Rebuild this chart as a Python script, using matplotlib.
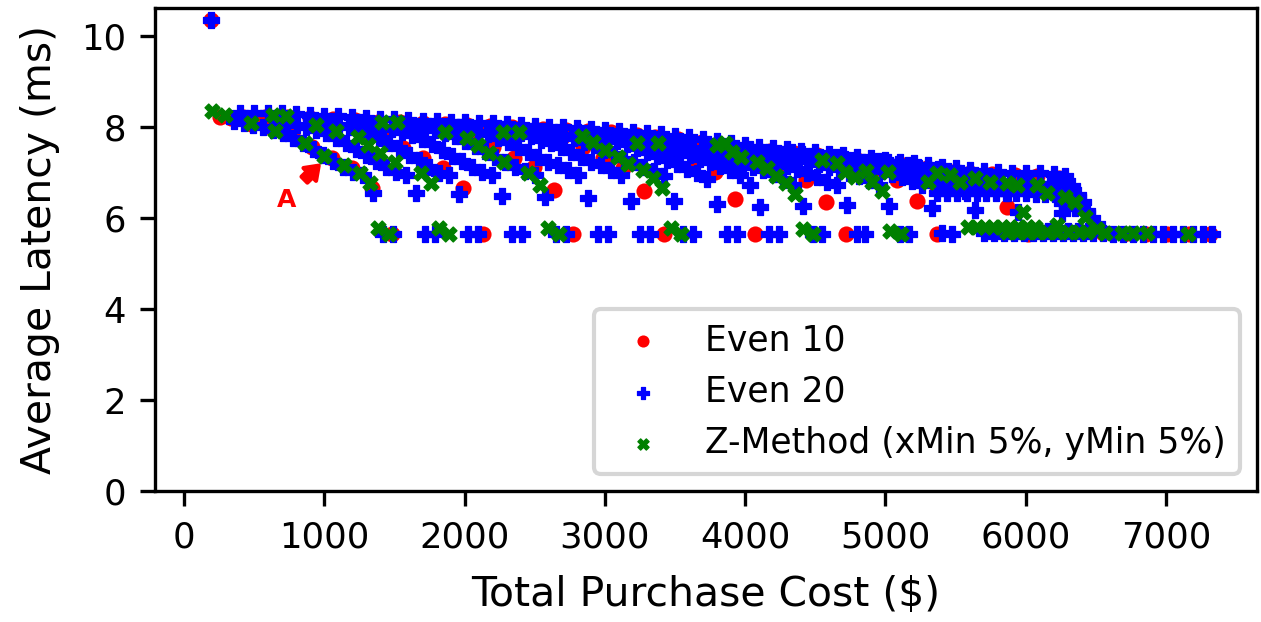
import matplotlib
matplotlib.use("Agg")
import matplotlib.pyplot as plt

# (cost $, latency ms) for each configuration
even10_band = [
    (190, 10.35),
    (260, 8.23), (420, 8.22), (580, 8.22), (740, 8.21), (900, 8.2), (1060, 8.17),
    (1220, 8.15), (1380, 8.12), (1540, 8.1), (1700, 8.08), (1860, 8.06), (2020, 8.04),
    (2180, 8.02), (2340, 8.0), (2560, 7.96), (2720, 7.94), (2880, 7.91), (3040, 7.88),
    (3230, 7.83), (3357, 7.79), (3520, 7.74), (3690, 7.66), (3856, 7.58), (4013, 7.52),
    (4180, 7.47), (4350, 7.42), (4512, 7.39), (4654, 7.33), (4797, 7.28), (4960, 7.23),
    (5130, 7.16), (5296, 7.09), (5445, 7.04), (5600, 7.0), (5760, 6.97), (5920, 6.95),
    (6080, 6.92), (6240, 6.88),
]
even10_curves = [
    (335, 8.2), (478, 8.07), (627, 7.98), (770, 7.85), (912, 7.56), (1055, 7.32),
    (1197, 7.1), (1340, 6.66), (1483, 5.65),
    (1276, 7.98), (1411, 7.78), (1561, 7.54), (1704, 7.32), (1846, 7.1), (1989, 6.66),
    (2131, 5.65),
    (1920, 7.96), (2060, 7.8), (2200, 7.56), (2350, 7.32), (2495, 7.12), (2640, 6.62),
    (2773, 5.65),
    (2700, 7.8), (2845, 7.56), (2987, 7.32), (3129, 7.1), (3280, 6.6), (3421, 5.65),
    (3500, 7.49), (3642, 7.23), (3785, 7.01), (3927, 6.42), (4070, 5.65),
    (4140, 7.4), (4284, 7.19), (4433, 6.84), (4576, 6.35), (4718, 5.65),
    (4940, 7.1), (5082, 6.84), (5224, 6.37), (5367, 5.65),
    (5367, 6.68), (5720, 6.75), (5866, 6.24), (6015, 5.65),
    (6386, 6.33),
    (6550, 5.66), (6700, 5.65), (6860, 5.65), (7006, 5.65), (7160, 5.65), (7313, 5.65),
]

even20_band = [
    (190, 10.35),
    (400, 8.3), (500, 8.31), (600, 8.31), (700, 8.3), (800, 8.28), (900, 8.27),
    (1000, 8.25), (1100, 8.24), (1200, 8.22), (1300, 8.2), (1400, 8.18), (1500, 8.17),
    (1600, 8.15), (1700, 8.14), (1800, 8.13), (1900, 8.11), (2000, 8.1), (2100, 8.09),
    (2200, 8.08), (2300, 8.06), (2400, 8.05), (2500, 8.03), (2600, 8.01), (2700, 8.0),
    (2800, 7.98), (2900, 7.96), (3000, 7.94), (3100, 7.92), (3200, 7.9), (3300, 7.87),
    (3400, 7.84), (3500, 7.81), (3600, 7.78), (3700, 7.74), (3800, 7.7), (3900, 7.65),
    (4000, 7.6), (4100, 7.57), (4200, 7.54), (4300, 7.51), (4400, 7.48), (4500, 7.45),
    (4600, 7.41), (4700, 7.38), (4800, 7.35), (4900, 7.32), (5000, 7.28), (5100, 7.24),
    (5200, 7.2), (5300, 7.16), (5400, 7.12), (5500, 7.09), (5600, 7.06), (5700, 7.04),
    (5800, 7.02), (5900, 7.0), (6000, 6.99), (6100, 6.98), (6200, 6.97), (6280, 6.93),
    # lower rows near the knee
    (5400, 6.8), (5470, 6.8), (5540, 6.79), (5610, 6.79), (5680, 6.78), (5750, 6.78),
    (5820, 6.77), (5890, 6.77), (5960, 6.76), (6030, 6.76), (6100, 6.75), (6170, 6.75),
    (6240, 6.74),
    (5370, 6.56), (5440, 6.56), (5510, 6.56), (5580, 6.55), (5650, 6.55), (5720, 6.55),
    (5790, 6.55), (5860, 6.54), (5930, 6.54), (6000, 6.54), (6070, 6.53), (6140, 6.53),
    (6210, 6.52), (6270, 6.52),
]
even20_curves = [
    (1347, 6.55), (1276, 6.94), (1205, 7.02), (1134, 7.12), (1063, 7.26), (992, 7.38),
    (921, 7.52), (850, 7.64), (779, 7.76), (708, 7.86), (637, 7.94), (566, 8.0),
    (495, 8.05), (424, 8.09), (353, 8.13),
    (1654, 6.55), (1583, 6.94), (1512, 7.02), (1441, 7.12), (1370, 7.26), (1299, 7.38),
    (1228, 7.52), (1157, 7.64), (1086, 7.76), (1015, 7.86), (944, 7.94), (873, 8.0),
    (802, 8.05), (731, 8.09), (660, 8.13),
    (1960, 6.53), (1889, 6.94), (1818, 7.0), (1747, 7.12), (1676, 7.27), (1605, 7.38),
    (1534, 7.54), (1463, 7.65), (1392, 7.76), (1321, 7.85), (1250, 7.93), (1179, 7.99),
    (1108, 8.04), (1037, 8.08), (966, 8.12),
    (2267, 6.48), (2196, 6.94), (2125, 7.02), (2054, 7.12), (1983, 7.25), (1912, 7.36),
    (1841, 7.5), (1770, 7.62), (1699, 7.73), (1628, 7.82), (1557, 7.9), (1486, 7.96),
    (1415, 8.01), (1344, 8.06), (1273, 8.1),
    (2573, 6.46), (2502, 6.94), (2431, 7.03), (2360, 7.13), (2289, 7.23), (2218, 7.34),
    (2147, 7.47), (2076, 7.59), (2005, 7.7), (1934, 7.8), (1863, 7.87), (1792, 7.94),
    (1721, 7.99), (1650, 8.03), (1579, 8.07),
    (2880, 6.44), (2809, 6.94), (2738, 7.05), (2667, 7.16), (2596, 7.23), (2525, 7.34),
    (2454, 7.46), (2383, 7.57), (2312, 7.67), (2241, 7.76), (2170, 7.84), (2099, 7.9),
    (2028, 7.95), (1957, 8.0), (1886, 8.03),
    (3186, 6.37), (3115, 6.94), (3044, 7.05), (2973, 7.16), (2902, 7.23), (2831, 7.33),
    (2760, 7.44), (2689, 7.55), (2618, 7.64), (2547, 7.72), (2476, 7.8), (2405, 7.86),
    (2334, 7.9), (2263, 7.95), (2192, 7.98),
    (3493, 6.37), (3422, 6.92), (3351, 7.03), (3280, 7.13), (3209, 7.22), (3138, 7.3),
    (3067, 7.4), (2996, 7.5), (2925, 7.6), (2854, 7.68), (2783, 7.75), (2712, 7.82),
    (2641, 7.87), (2570, 7.91), (2499, 7.94),
    (3799, 6.3), (3728, 6.85), (3657, 6.98), (3586, 7.08), (3515, 7.18), (3444, 7.27),
    (3373, 7.36), (3302, 7.45), (3231, 7.54), (3160, 7.62), (3089, 7.7), (3018, 7.76),
    (2947, 7.82), (2876, 7.86), (2805, 7.9),
    (4105, 6.24), (4034, 6.72), (3963, 6.94), (3892, 7.05), (3821, 7.14), (3750, 7.22),
    (3679, 7.3), (3608, 7.38), (3537, 7.46), (3466, 7.54), (3395, 7.6), (3324, 7.66),
    (3253, 7.72), (3182, 7.77), (3111, 7.8),
    (4412, 6.26), (4341, 6.72), (4270, 6.86), (4199, 6.96), (4128, 7.05), (4057, 7.13),
    (3986, 7.21), (3915, 7.28), (3844, 7.35), (3773, 7.42), (3702, 7.48), (3631, 7.54),
    (3560, 7.6), (3489, 7.65), (3418, 7.7),
    (4725, 6.29), (4654, 6.72), (4583, 6.79), (4512, 6.9), (4441, 7.0), (4370, 7.08),
    (4299, 7.15), (4228, 7.22), (4157, 7.29), (4086, 7.35), (4015, 7.4), (3944, 7.45),
    (3873, 7.5), (3802, 7.55), (3731, 7.6),
    (5025, 6.26), (4954, 6.72), (4883, 6.84), (4812, 6.92), (4741, 7.0), (4670, 7.07),
    (4599, 7.13), (4528, 7.19), (4457, 7.25), (4386, 7.3), (4315, 7.35), (4244, 7.4),
    (4173, 7.44), (4102, 7.48), (4031, 7.52),
    (5331, 6.22), (5260, 6.72), (5189, 6.82), (5118, 6.9), (5047, 6.97), (4976, 7.03),
    (4905, 7.09), (4834, 7.14), (4763, 7.19), (4692, 7.24), (4621, 7.28), (4550, 7.32),
    (4479, 7.36), (4408, 7.4), (4337, 7.44),
    (5638, 6.18), (5567, 6.6), (5496, 6.75), (5425, 6.85), (5354, 6.92), (5283, 6.98),
    (5212, 7.03), (5141, 7.08), (5070, 7.12), (4999, 7.16), (4928, 7.2), (4857, 7.24),
    (4786, 7.27), (4715, 7.3), (4644, 7.33),
    (5944, 6.13), (5873, 6.55), (5802, 6.7), (5731, 6.8), (5660, 6.88), (5589, 6.94),
    (5518, 6.99), (5447, 7.03), (5376, 7.07), (5305, 7.1), (5234, 7.13), (5163, 7.16),
    (5092, 7.19), (5021, 7.22), (4950, 7.25),
    # knee
    (6258, 6.33), (6258, 6.1), (6293, 6.29), (6330, 6.7), (6351, 6.22), (6370, 6.5),
    (6410, 6.35), (6440, 6.15), (6470, 6.0), (6500, 5.85), (6540, 5.76),
]
even20_floor = [
    (1418, 5.65), (1489, 5.65), (1718, 5.65), (1789, 5.65), (2024, 5.65), (2095, 5.65),
    (2338, 5.65), (2409, 5.65), (2651, 5.65), (2722, 5.65), (2950, 5.65), (3021, 5.65),
    (3250, 5.65), (3321, 5.65), (3556, 5.65), (3627, 5.65), (3870, 5.65), (3941, 5.65),
    (4170, 5.65), (4241, 5.65), (4480, 5.65), (4550, 5.65), (4797, 5.65), (4854, 5.65),
    (5100, 5.65), (5170, 5.65), (5403, 5.66), (5474, 5.65),
    (5700, 5.67), (5771, 5.67), (5842, 5.67), (5913, 5.67), (5984, 5.67), (6055, 5.67),
    (6126, 5.67), (6197, 5.67), (6268, 5.67), (6339, 5.67), (6410, 5.67), (6481, 5.66),
    (6552, 5.66), (6623, 5.65), (6694, 5.65), (6765, 5.65), (6836, 5.65), (6907, 5.65),
    (6978, 5.65), (7049, 5.65), (7120, 5.65), (7191, 5.65), (7262, 5.65), (7330, 5.65),
    (5735, 5.72), (5806, 5.72), (5877, 5.72), (5948, 5.72), (6019, 5.72), (6090, 5.72),
    (6161, 5.72), (6232, 5.72), (6303, 5.72), (6374, 5.72), (6445, 5.72),
]

zmethod_band = [
    (200, 8.36), (292, 8.26), (478, 8.09), (634, 8.26), (727, 8.24), (941, 8.04),
    (1083, 7.91), (1411, 8.1), (1518, 8.1), (1860, 7.9), (2274, 7.89), (2388, 7.89),
    (2837, 7.8), (3229, 7.65), (3379, 7.65), (3799, 7.6), (4547, 7.28), (4654, 7.2),
    (5018, 7.01),
]
zmethod_curves = [
    (649, 7.91), (862, 7.65), (998, 7.37), (1140, 7.16), (1254, 6.99), (1326, 6.77),
    (1383, 5.78), (1461, 5.64),
    (1240, 7.78), (1312, 7.6), (1397, 7.42), (1504, 7.22), (1689, 6.99), (1760, 6.77),
    (1818, 5.78), (1889, 5.65),
    (2017, 7.75), (2095, 7.6), (2174, 7.43), (2281, 7.23), (2455, 6.99), (2535, 6.73),
    (2598, 5.78), (2670, 5.65),
    (2915, 7.66), (3004, 7.5), (3097, 7.33), (3165, 7.18), (3275, 7.05), (3343, 6.89),
    (3410, 6.66), (3471, 5.78), (3542, 5.65),
    (3856, 7.65), (3906, 7.45), (3970, 7.34), (4084, 7.23), (4155, 7.1), (4217, 6.92),
    (4288, 6.77), (4355, 6.52), (4415, 5.76), (4483, 5.65),
    (4711, 7.02), (4785, 6.9), (4861, 7.04), (4904, 6.79), (4975, 6.6), (5035, 5.72),
    (5110, 5.65),
    (5303, 6.79), (5367, 6.99), (5460, 6.95), (5531, 6.8), (5638, 6.87), (5745, 6.79),
    (5866, 6.77), (5937, 6.73), (6080, 6.73), (6151, 6.55), (6280, 6.46), (6351, 6.35),
    (6422, 6.02), (5980, 6.13),
]
zmethod_floor = [
    (5588, 5.8), (5652, 5.8), (5709, 5.8), (5766, 5.8), (5830, 5.8), (5887, 5.8),
    (5944, 5.8), (6008, 5.8), (6066, 5.8), (6222, 5.84), (6507, 5.76),
    (5866, 5.7), (5940, 5.7), (6010, 5.7), (6080, 5.7), (6150, 5.7), (6222, 5.7),
    (6300, 5.7), (6380, 5.7), (6440, 5.7), (6565, 5.67), (6686, 5.67), (6764, 5.66),
    (6864, 5.66), (7156, 5.65),
]

# label, points, colour, marker, size, edge width
series = [
    ("Even 10", even10_band + even10_curves, "red", "o", 15, 0.0),
    ("Even 20", even20_band + even20_curves + even20_floor, "blue", "P", 13, 0.3),
    ("Z-Method (xMin 5%, yMin 5%)", zmethod_band + zmethod_curves + zmethod_floor,
     "green", "X", 13, 0.3),
]

fig = plt.figure(figsize=(1261 / 300, 622 / 300), dpi=300)
ax = fig.add_axes([0.1229, 0.2106, 0.8739, 0.7765])

for label, pts, color, marker, size, lw in series:
    xs = [p[0] for p in pts]
    ys = [p[1] for p in pts]
    ax.scatter(xs, ys, s=size, c=color, marker=marker, linewidths=lw,
               edgecolors=color, label=label)

ax.annotate("A", xy=(960, 7.15), xytext=(730, 6.4), color="red", fontsize=6,
            fontweight="bold", ha="center", va="center",
            arrowprops=dict(color="red", width=2.0, headwidth=4.3, headlength=3.0))

ax.set_xlim(-207, 7648)
ax.set_ylim(0, 10.615)
ax.set_xticks(range(0, 8000, 1000))
ax.set_yticks(range(0, 11, 2))
ax.tick_params(labelsize=8.5)
ax.set_xlabel("Total Purchase Cost ($)", fontsize=9.8, labelpad=5)
ax.set_ylabel("Average Latency (ms)", fontsize=9.8, labelpad=5)
ax.legend(loc="lower right", fontsize=8.3, markerscale=0.75)

fig.savefig("out.png", dpi=300)
